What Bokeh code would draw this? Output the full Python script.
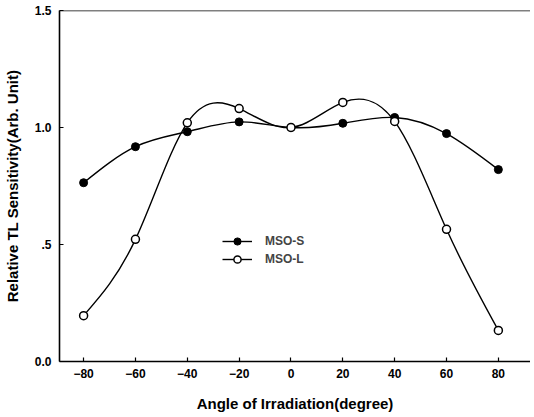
import numpy as np
from bokeh.plotting import figure
from bokeh.models import Range1d, FixedTicker, Span, Legend, LegendItem, ColumnDataSource
from bokeh.embed import file_html
from bokeh.resources import INLINE

angles = [-80, -60, -40, -20, 0, 20, 40, 60, 80]
mso_s = [0.764, 0.918, 0.982, 1.024, 1.000, 1.018, 1.043, 0.974, 0.820]
mso_l = [0.196, 0.522, 1.020, 1.081, 1.000, 1.107, 1.026, 0.565, 0.133]
x_ticks = [-80, -60, -40, -20, 0, 20, 40, 60, 80]
y_ticks = [0.0, 0.5, 1.0, 1.5]
y_tick_labels = {0.0: "0.0", 0.5: ".5", 1.0: "1.0", 1.5: "1.5"}


def spline_bezier(xs, ys):
    """Natural cubic spline through the data, expressed as Bezier segments."""
    x = np.asarray(xs, float)
    y = np.asarray(ys, float)
    n = len(x)
    h = np.diff(x)
    A = np.zeros((n, n))
    b = np.zeros(n)
    A[0, 0] = 1
    A[-1, -1] = 1
    for i in range(1, n - 1):
        A[i, i - 1] = h[i - 1]
        A[i, i] = 2 * (h[i - 1] + h[i])
        A[i, i + 1] = h[i]
        b[i] = 6 * ((y[i + 1] - y[i]) / h[i] - (y[i] - y[i - 1]) / h[i - 1])
    M = np.linalg.solve(A, b)
    m = np.zeros(n)
    for i in range(n - 1):
        m[i] = (y[i + 1] - y[i]) / h[i] - h[i] * (2 * M[i] + M[i + 1]) / 6
    m[-1] = (y[-1] - y[-2]) / h[-1] + h[-1] * (M[-2] + 2 * M[-1]) / 6
    return dict(
        x0=x[:-1], y0=y[:-1], x1=x[1:], y1=y[1:],
        cx0=x[:-1] + h / 3, cy0=y[:-1] + m[:-1] * h / 3,
        cx1=x[1:] - h / 3, cy1=y[1:] - m[1:] * h / 3,
    )


p = figure(width=530, height=414, output_backend="svg", toolbar_location=None,
           x_range=Range1d(-89.3, 92.4), y_range=Range1d(0, 1.5),
           min_border_left=58, min_border_right=0, min_border_top=10, min_border_bottom=53)
p.outline_line_color = None
p.grid.visible = False
p.background_fill_color = "white"

FONT = "Liberation Sans"
for ax in (p.xaxis[0], p.yaxis[0]):
    ax.axis_line_color = "black"
    ax.axis_line_width = 1.6
    ax.major_tick_in = 4
    ax.major_tick_out = 0
    ax.major_tick_line_width = 1.2
    ax.minor_tick_line_color = None
    ax.major_label_text_font = FONT
    ax.major_label_text_font_style = "bold"
    ax.major_label_text_font_size = "12px"
    ax.major_label_text_color = "black"
    ax.axis_label_text_font = FONT
    ax.axis_label_text_font_style = "bold"
    ax.axis_label_text_font_size = "15px"
    ax.axis_label_text_color = "black"

p.xaxis.ticker = FixedTicker(ticks=x_ticks)
p.yaxis.ticker = FixedTicker(ticks=y_ticks)
p.yaxis.major_label_overrides = y_tick_labels
p.xaxis.axis_label = "Angle of Irradiation(degree)"
p.yaxis.axis_label = "Relative TL Sensitivity(Arb. Unit)"
p.xaxis.major_label_standoff = 7
p.xaxis.axis_label_standoff = 14
p.yaxis.major_label_standoff = 8
p.yaxis.axis_label_standoff = 11

top = Span(location=1.5, dimension="width", line_color="black", line_width=1.6)
p.add_layout(top)

src_s = ColumnDataSource(spline_bezier(angles, mso_s))
src_l = ColumnDataSource(spline_bezier(angles, mso_l))
bs = p.bezier(x0="x0", y0="y0", x1="x1", y1="y1", cx0="cx0", cy0="cy0", cx1="cx1", cy1="cy1",
              source=src_s, line_color="black", line_width=1.4)
bl = p.bezier(x0="x0", y0="y0", x1="x1", y1="y1", cx0="cx0", cy0="cy0", cx1="cx1", cy1="cy1",
              source=src_l, line_color="black", line_width=1.4)
ss = p.scatter(angles, mso_s, size=8, marker="circle", fill_color="black", line_color="black")
sl = p.scatter(angles, mso_l, size=8, marker="circle", fill_color="white", line_color="black",
               line_width=1.5)

legend = Legend(items=[LegendItem(label="MSO-S", renderers=[bs, ss]),
                       LegendItem(label="MSO-L", renderers=[bl, sl])],
                location=(163, 93), orientation="vertical")
legend.border_line_color = None
legend.background_fill_alpha = 0
legend.padding = 0
legend.margin = 0
legend.spacing = 0
legend.glyph_width = 30
legend.glyph_height = 18
legend.label_height = 18
legend.label_standoff = 13
legend.label_text_font = FONT
legend.label_text_font_style = "bold"
legend.label_text_font_size = "12px"
p.add_layout(legend, "center")

open("out.html", "w").write(file_html(p, INLINE))
